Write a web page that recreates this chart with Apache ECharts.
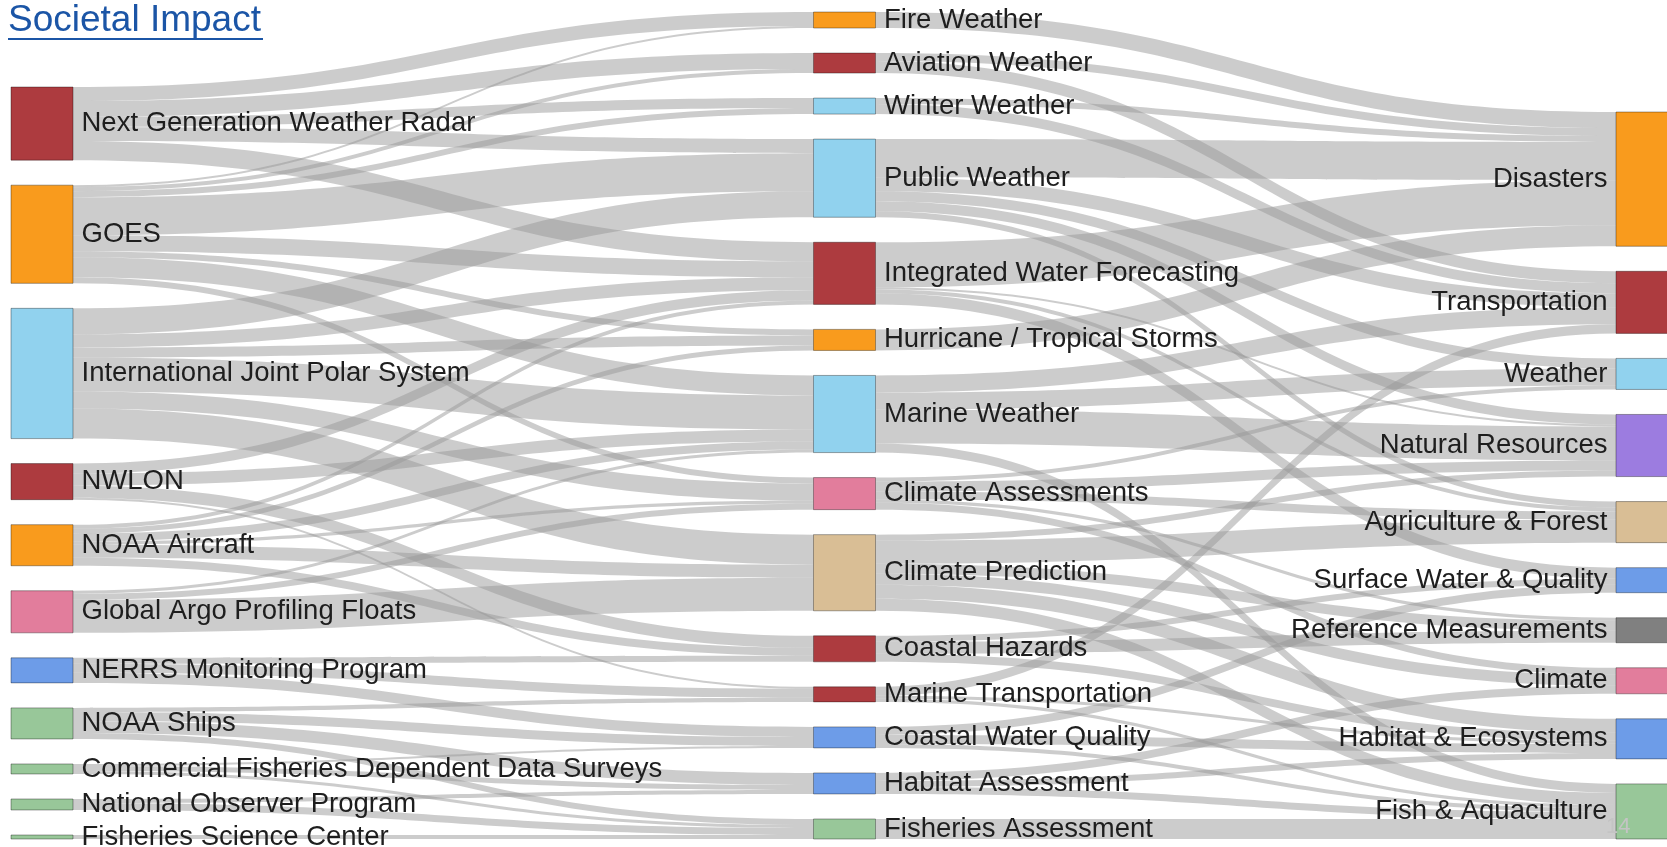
<!DOCTYPE html>
<html>
<head>
<meta charset="utf-8">
<title>Societal Impact</title>
<style>
  html, body { margin: 0; padding: 0; background: #fff; }
  #chart { width: 1667px; height: 847px; }
</style>
<script src="https://cdn.jsdelivr.net/npm/echarts@6/dist/echarts.min.js"></script>
</head>
<body>
<div id="chart"></div>
<script>
// observing systems -> services -> societal benefit areas
var systems = ['Next Generation Weather Radar', 'GOES', 'International Joint Polar System', 'NWLON',
  'NOAA Aircraft', 'Global Argo Profiling Floats', 'NERRS Monitoring Program', 'NOAA Ships',
  'Commercial Fisheries Dependent Data Surveys', 'National Observer Program', 'Fisheries Science Center'];
var systemColors = ['red', 'orange', 'sky', 'red', 'orange', 'pink', 'blue', 'green', 'green', 'green', 'green'];

var services = ['Fire Weather', 'Aviation Weather', 'Winter Weather', 'Public Weather',
  'Integrated Water Forecasting', 'Hurricane / Tropical Storms', 'Marine Weather', 'Climate Assessments',
  'Climate Prediction', 'Coastal Hazards', 'Marine Transportation', 'Coastal Water Quality',
  'Habitat Assessment', 'Fisheries Assessment'];
var serviceColors = ['orange', 'red', 'sky', 'sky', 'red', 'orange', 'sky', 'pink', 'tan', 'red', 'red',
  'blue', 'blue', 'green'];

var benefits = ['Disasters', 'Transportation', 'Weather', 'Natural Resources', 'Agriculture & Forest',
  'Surface Water & Quality', 'Reference Measurements', 'Climate', 'Habitat & Ecosystems', 'Fish & Aquaculture'];
var benefitColors = ['orange', 'red', 'sky', 'purple', 'tan', 'blue', 'gray', 'pink', 'blue', 'green'];

// [system, service, value]
var systemLinks = [
  ['Next Generation Weather Radar', 'Fire Weather', 14],
  ['Next Generation Weather Radar', 'Aviation Weather', 16],
  ['Next Generation Weather Radar', 'Winter Weather', 10],
  ['Next Generation Weather Radar', 'Public Weather', 14],
  ['Next Generation Weather Radar', 'Integrated Water Forecasting', 19],
  ['GOES', 'Fire Weather', 2],
  ['GOES', 'Aviation Weather', 4],
  ['GOES', 'Winter Weather', 6],
  ['GOES', 'Public Weather', 38],
  ['GOES', 'Integrated Water Forecasting', 16],
  ['GOES', 'Hurricane / Tropical Storms', 6],
  ['GOES', 'Marine Weather', 20],
  ['GOES', 'Climate Assessments', 6],
  ['International Joint Polar System', 'Public Weather', 26],
  ['International Joint Polar System', 'Integrated Water Forecasting', 13],
  ['International Joint Polar System', 'Hurricane / Tropical Storms', 10],
  ['International Joint Polar System', 'Marine Weather', 34],
  ['International Joint Polar System', 'Climate Assessments', 17],
  ['International Joint Polar System', 'Climate Prediction', 30],
  ['NWLON', 'Integrated Water Forecasting', 10],
  ['NWLON', 'Marine Weather', 12],
  ['NWLON', 'Coastal Hazards', 12],
  ['NWLON', 'Marine Transportation', 2],
  ['NOAA Aircraft', 'Integrated Water Forecasting', 4],
  ['NOAA Aircraft', 'Hurricane / Tropical Storms', 5],
  ['NOAA Aircraft', 'Marine Weather', 8],
  ['NOAA Aircraft', 'Climate Assessments', 3],
  ['NOAA Aircraft', 'Climate Prediction', 13],
  ['NOAA Aircraft', 'Coastal Hazards', 8],
  ['Global Argo Profiling Floats', 'Marine Weather', 3],
  ['Global Argo Profiling Floats', 'Climate Assessments', 6],
  ['Global Argo Profiling Floats', 'Climate Prediction', 33],
  ['NERRS Monitoring Program', 'Marine Transportation', 9],
  ['NERRS Monitoring Program', 'Coastal Hazards', 6],
  ['NERRS Monitoring Program', 'Coastal Water Quality', 10],
  ['NOAA Ships', 'Marine Transportation', 4],
  ['NOAA Ships', 'Coastal Water Quality', 9],
  ['NOAA Ships', 'Habitat Assessment', 12],
  ['NOAA Ships', 'Fisheries Assessment', 6],
  ['Commercial Fisheries Dependent Data Surveys', 'Coastal Water Quality', 2],
  ['Commercial Fisheries Dependent Data Surveys', 'Habitat Assessment', 5],
  ['Commercial Fisheries Dependent Data Surveys', 'Fisheries Assessment', 3],
  ['National Observer Program', 'Habitat Assessment', 4],
  ['National Observer Program', 'Fisheries Assessment', 7],
  ['Fisheries Science Center', 'Fisheries Assessment', 4]
];

// [service, benefit, value]
var serviceLinks = [
  ['Fire Weather', 'Disasters', 16],
  ['Aviation Weather', 'Disasters', 8],
  ['Aviation Weather', 'Transportation', 12],
  ['Winter Weather', 'Disasters', 6],
  ['Winter Weather', 'Transportation', 10],
  ['Public Weather', 'Disasters', 38],
  ['Public Weather', 'Transportation', 14],
  ['Public Weather', 'Weather', 10],
  ['Public Weather', 'Natural Resources', 10],
  ['Public Weather', 'Agriculture & Forest', 6],
  ['Integrated Water Forecasting', 'Disasters', 45],
  ['Integrated Water Forecasting', 'Natural Resources', 2],
  ['Integrated Water Forecasting', 'Agriculture & Forest', 4],
  ['Integrated Water Forecasting', 'Surface Water & Quality', 11],
  ['Hurricane / Tropical Storms', 'Disasters', 21],
  ['Marine Weather', 'Transportation', 17],
  ['Marine Weather', 'Weather', 17],
  ['Marine Weather', 'Natural Resources', 34],
  ['Marine Weather', 'Fish & Aquaculture', 9],
  ['Climate Assessments', 'Weather', 4],
  ['Climate Assessments', 'Natural Resources', 10],
  ['Climate Assessments', 'Agriculture & Forest', 8],
  ['Climate Assessments', 'Reference Measurements', 3],
  ['Climate Assessments', 'Climate', 7],
  ['Climate Prediction', 'Natural Resources', 6],
  ['Climate Prediction', 'Agriculture & Forest', 23],
  ['Climate Prediction', 'Reference Measurements', 10],
  ['Climate Prediction', 'Climate', 11],
  ['Climate Prediction', 'Habitat & Ecosystems', 14],
  ['Climate Prediction', 'Fish & Aquaculture', 12],
  ['Coastal Hazards', 'Surface Water & Quality', 6],
  ['Coastal Hazards', 'Reference Measurements', 12],
  ['Coastal Hazards', 'Habitat & Ecosystems', 8],
  ['Marine Transportation', 'Transportation', 9],
  ['Marine Transportation', 'Habitat & Ecosystems', 3],
  ['Marine Transportation', 'Fish & Aquaculture', 3],
  ['Coastal Water Quality', 'Surface Water & Quality', 8],
  ['Coastal Water Quality', 'Habitat & Ecosystems', 9],
  ['Coastal Water Quality', 'Fish & Aquaculture', 4],
  ['Habitat Assessment', 'Climate', 8],
  ['Habitat Assessment', 'Habitat & Ecosystems', 6],
  ['Habitat Assessment', 'Fish & Aquaculture', 7],
  ['Fisheries Assessment', 'Fish & Aquaculture', 20]
];

var palette = {
  red: '#ad3b3f',
  orange: '#f99b1d',
  sky: '#91d2ee',
  pink: '#e27d9c',
  blue: '#6d9ce8',
  green: '#98c799',
  tan: '#d9be95',
  purple: '#9c7ce0',
  gray: '#808080'
};

function makeNodes(names, colors, labelSide) {
  return names.map(function (name, i) {
    return {
      name: name,
      itemStyle: { color: palette[colors[i]] },
      label: { position: labelSide }
    };
  });
}

var nodes = makeNodes(systems, systemColors, 'right')
  .concat(makeNodes(services, serviceColors, 'right'))
  .concat(makeNodes(benefits, benefitColors, 'left'));

var links = systemLinks.concat(serviceLinks).map(function (l) {
  return { source: l[0], target: l[1], value: l[2] };
});

var chart = echarts.init(document.getElementById('chart'));
chart.setOption({
  animation: false,
  title: [
    {
      text: 'Societal Impact',
      left: 8, top: 2, padding: 0,
      textStyle: { fontFamily: 'Liberation Sans', fontSize: 37, fontWeight: 'normal', color: '#1b55a6' }
    },
    {
      text: '14',
      left: 1606, top: 816, padding: 0,
      textStyle: { fontFamily: 'Liberation Sans', fontSize: 22, fontWeight: 'normal', color: '#c4c4c4' }
    }
  ],
  graphic: [
    { type: 'rect', shape: { x: 8, y: 38, width: 255, height: 2 }, style: { fill: '#1b55a6' } }
  ],
  series: [{
    type: 'sankey',
    left: 11, top: 12, bottom: 8,
    width: 1667,
    nodeWidth: 62,
    nodeGap: 25,
    layoutIterations: 32,
    draggable: false,
    emphasis: { disabled: true },
    data: nodes,
    links: links,
    itemStyle: { borderColor: 'rgba(0,0,0,0.35)', borderWidth: 1 },
    lineStyle: { color: '#999999', opacity: 0.5, curveness: 0.5 },
    label: {
      fontFamily: 'Liberation Sans',
      fontSize: 27.5,
      color: '#1e1e1e',
      distance: 8
    }
  }]
});
</script>
</body>
</html>
